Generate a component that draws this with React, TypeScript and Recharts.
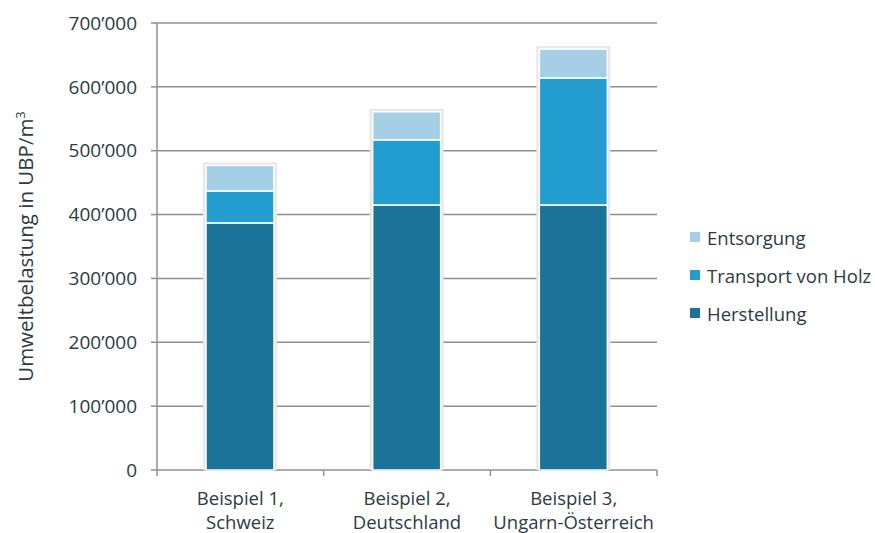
import React from 'react';
import { BarChart, Bar, XAxis, YAxis, CartesianGrid, Legend, Label } from 'recharts';

const categories = ['Beispiel 1,\nSchweiz', 'Beispiel 2,\nDeutschland', 'Beispiel 3,\nUngarn-Österreich'];
const herstellung = [387000, 415000, 415000];
const transport = [50000, 102000, 199000];
const entsorgung = [40000, 44000, 45000];
const yTicks = [0, 100000, 200000, 300000, 400000, 500000, 600000, 700000];

const series = [
  { key: 'herstellung', name: 'Herstellung', color: '#1b7399' },
  { key: 'transport', name: 'Transport von Holz', color: '#239dcf' },
  { key: 'entsorgung', name: 'Entsorgung', color: '#a4cfe7' },
];

const data = categories.map((c, i) => ({
  category: c,
  herstellung: herstellung[i],
  transport: transport[i],
  entsorgung: entsorgung[i],
}));

const W = 875;
const H = 533;
const PLOT_LEFT = 157;
const PLOT_RIGHT = 657;
const PLOT_TOP = 23;
const PLOT_BOTTOM = 470;
const BAND = (PLOT_RIGHT - PLOT_LEFT) / categories.length;
const FONT = '"Open Sans", sans-serif';
const TEXT = '#2c3a43';
const AXIS = '#8f8f8f';

const fmt = (v: number) => (v === 0 ? '0' : `${v / 1000}’000`);

const Segment = (props: any) => {
  const { x, y, width, height, fill } = props;
  if (!height || height <= 0) return null;
  return (
    <g>
      <rect x={x - 3} y={y - 3} width={width + 6} height={height + 3} fill="#e8e8e8" />
      <rect x={x} y={y} width={width} height={height} fill={fill} stroke="#ffffff" strokeWidth={1.5} />
    </g>
  );
};

// tick y arrives offset by the default tick size (6) and margin (2)
const XTick = (props: any) => {
  const { x, y, payload, index } = props;
  const base = y - 8;
  const lines = String(payload.value).split('\n');
  const left = x - BAND / 2;
  const right = x + BAND / 2;
  return (
    <g>
      <line x1={left} y1={base} x2={left} y2={base + 6} stroke={AXIS} strokeWidth={1.5} />
      {index === categories.length - 1 && (
        <line x1={right} y1={base} x2={right} y2={base + 6} stroke={AXIS} strokeWidth={1.5} />
      )}
      {lines.map((l, i) => (
        <text
          key={i}
          x={x}
          y={base + 35 + i * 24}
          textAnchor="middle"
          fill={TEXT}
          fontFamily={FONT}
          fontSize={18.5}
        >
          {l}
        </text>
      ))}
    </g>
  );
};

const YLabel = () => (
  <text
    transform={`translate(33, ${(PLOT_TOP + PLOT_BOTTOM) / 2}) rotate(-90)`}
    textAnchor="middle"
    fill={TEXT}
    fontFamily={FONT}
    fontSize={20.5}
  >
    Umweltbelastung in UBP/m
    <tspan dy={-8} fontSize={13}>3</tspan>
  </text>
);

const legendItems = [...series].reverse();

const LegendContent = () => (
  <div style={{ fontFamily: FONT, fontSize: 18.5, color: TEXT }}>
    {legendItems.map((s) => (
      <div key={s.key} style={{ display: 'flex', alignItems: 'center', height: 38 }}>
        <span style={{ width: 10, height: 10, background: s.color, marginRight: 7, display: 'inline-block' }} />
        <span>{s.name}</span>
      </div>
    ))}
  </div>
);

export default function App() {
  return (
    <div style={{ position: 'absolute', left: 0, top: 0, width: W, height: H, background: '#fff' }}>
      <BarChart
        width={W}
        height={H}
        data={data}
        margin={{ top: PLOT_TOP, right: W - PLOT_RIGHT, bottom: 3, left: 0 }}
      >
        <CartesianGrid vertical={false} stroke={AXIS} strokeWidth={1.5} />
        <XAxis
          dataKey="category"
          interval={0}
          height={H - PLOT_BOTTOM - 3}
          axisLine={false}
          tickLine={false}
          tick={<XTick />}
        />
        <YAxis
          width={PLOT_LEFT}
          domain={[0, 700000]}
          ticks={yTicks}
          tickFormatter={fmt}
          axisLine={{ stroke: AXIS, strokeWidth: 1.5 }}
          tickLine={{ stroke: AXIS, strokeWidth: 1.5 }}
          tickSize={6}
          tickMargin={14}
          tick={{ fill: TEXT, fontFamily: FONT, fontSize: 19 }}
        >
          <Label content={<YLabel />} />
        </YAxis>
        <Legend
          layout="vertical"
          align="center"
          verticalAlign="middle"
          content={<LegendContent />}
          wrapperStyle={{ position: 'absolute', left: 690, top: 218, width: 185 }}
        />
        {series.map((s) => (
          <Bar
            key={s.key}
            dataKey={s.key}
            name={s.name}
            stackId="a"
            fill={s.color}
            barSize={68}
            shape={<Segment />}
            isAnimationActive={false}
          />
        ))}
      </BarChart>
    </div>
  );
}
